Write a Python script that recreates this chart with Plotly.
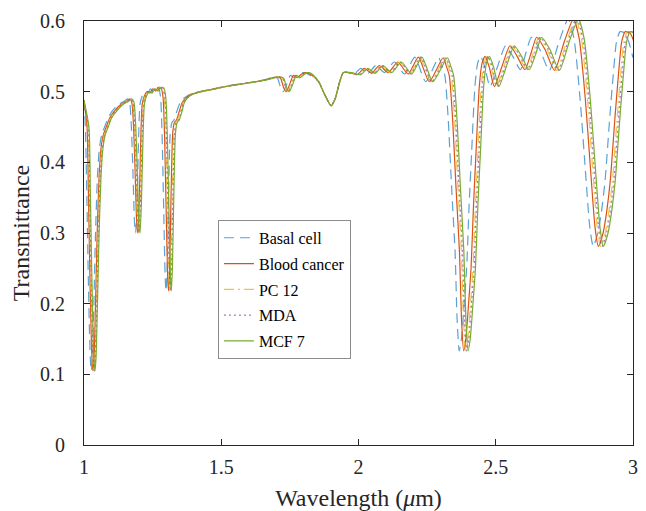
import plotly.graph_objects as go

# --- Data (wavelength in um, transmittance) ---
series_names = ["Basal cell", "Blood cancer", "PC 12", "MDA", "MCF 7"]

# transmittance levels shared by all five curves (same features, shifted in wavelength)
T = [
    0.488, 0.450, 0.360, 0.250, 0.160, 0.115, 0.105, 0.125, 0.200, 0.300, 0.380, 0.420, 0.440, 0.450, 0.463,
    0.471, 0.478, 0.483, 0.486, 0.490, 0.485, 0.455, 0.390, 0.315, 0.300, 0.340, 0.420, 0.482, 0.494, 0.500, 0.498, 0.504,
    0.501, 0.506, 0.505, 0.492, 0.430, 0.320, 0.235, 0.218, 0.250, 0.350, 0.440, 0.456, 0.460, 0.472,
    0.484, 0.491, 0.496,
    0.500, 0.504, 0.508, 0.511, 0.514, 0.517,
    0.521, 0.519, 0.506, 0.500, 0.510, 0.523, 0.520, 0.525, 0.527, 0.523,
    0.514, 0.495, 0.480, 0.490, 0.512, 0.527,
    0.527, 0.524, 0.533, 0.526, 0.537, 0.527, 0.542, 0.525, 0.549, 0.514,
    0.548, 0.535, 0.522, 0.460, 0.366, 0.272, 0.180, 0.133, 0.150, 0.200, 0.250, 0.340, 0.413, 0.507, 0.540, 0.550,
    0.535, 0.507, 0.535, 0.565, 0.550, 0.531,
    0.555, 0.577, 0.560, 0.530, 0.570, 0.603, 0.575, 0.491, 0.397, 0.307, 0.281, 0.300, 0.330, 0.373, 0.467, 0.524,
    0.571, 0.585, 0.583, 0.570, 0.548,
]

wl_basal = [
    1.000, 1.005, 1.010, 1.015, 1.020, 1.024, 1.027, 1.031, 1.036, 1.042, 1.049, 1.056, 1.065, 1.075, 1.088,
    1.100, 1.115, 1.130, 1.145, 1.158, 1.166, 1.172, 1.178, 1.184, 1.188, 1.193, 1.198, 1.204, 1.212, 1.222, 1.232, 1.242,
    1.252, 1.262, 1.272, 1.279, 1.285, 1.291, 1.296, 1.299, 1.303, 1.308, 1.314, 1.320, 1.328, 1.338,
    1.350, 1.365, 1.385,
    1.420, 1.470, 1.520, 1.570, 1.620, 1.660,
    1.690, 1.705, 1.716, 1.726, 1.738, 1.752, 1.766, 1.782, 1.798, 1.825,
    1.855, 1.878, 1.900, 1.915, 1.930, 1.945,
    1.962, 1.982, 2.008, 2.035, 2.063, 2.095, 2.130, 2.168, 2.205, 2.245,
    2.292, 2.305, 2.315, 2.327, 2.339, 2.352, 2.359, 2.367, 2.375, 2.385, 2.394, 2.403, 2.412, 2.424, 2.434, 2.445,
    2.460, 2.479, 2.506, 2.536, 2.562, 2.590,
    2.610, 2.630, 2.660, 2.695, 2.730, 2.764, 2.785, 2.807, 2.825, 2.843, 2.855, 2.872, 2.885, 2.898, 2.916, 2.928,
    2.940, 2.953, 2.970, 2.985, 3.000,
]

wl_blood = [
    1.000, 1.011, 1.016, 1.021, 1.026, 1.030, 1.033, 1.037, 1.042, 1.048, 1.055, 1.062, 1.071, 1.081, 1.094,
    1.108, 1.123, 1.138, 1.153, 1.166, 1.174, 1.180, 1.186, 1.192, 1.196, 1.201, 1.206, 1.212, 1.220, 1.230, 1.240, 1.250,
    1.261, 1.271, 1.281, 1.288, 1.294, 1.300, 1.305, 1.308, 1.312, 1.317, 1.323, 1.329, 1.337, 1.347,
    1.357, 1.371, 1.390,
    1.424, 1.474, 1.524, 1.574, 1.624, 1.664,
    1.701, 1.716, 1.727, 1.737, 1.749, 1.763, 1.777, 1.793, 1.809, 1.831,
    1.855, 1.878, 1.900, 1.915, 1.930, 1.945,
    1.968, 1.995, 2.021, 2.048, 2.076, 2.108, 2.143, 2.181, 2.218, 2.258,
    2.308, 2.321, 2.331, 2.343, 2.355, 2.368, 2.375, 2.383, 2.391, 2.401, 2.410, 2.419, 2.428, 2.440, 2.450, 2.461,
    2.476, 2.495, 2.522, 2.552, 2.578, 2.606,
    2.629, 2.649, 2.679, 2.714, 2.749, 2.783, 2.804, 2.826, 2.844, 2.862, 2.874, 2.891, 2.904, 2.917, 2.935, 2.947,
    2.959, 2.972, 2.989, 3.004, 3.019,
]

wl_pc12 = [
    1.000, 1.014, 1.019, 1.024, 1.029, 1.033, 1.036, 1.040, 1.045, 1.051, 1.058, 1.065, 1.074, 1.084, 1.097,
    1.111, 1.126, 1.141, 1.156, 1.169, 1.177, 1.183, 1.189, 1.195, 1.199, 1.204, 1.209, 1.215, 1.223, 1.233, 1.243, 1.253,
    1.265, 1.275, 1.285, 1.292, 1.298, 1.304, 1.309, 1.312, 1.316, 1.321, 1.327, 1.333, 1.341, 1.351,
    1.360, 1.373, 1.392,
    1.426, 1.476, 1.526, 1.576, 1.626, 1.666,
    1.706, 1.721, 1.732, 1.742, 1.754, 1.768, 1.782, 1.798, 1.814, 1.833,
    1.855, 1.878, 1.900, 1.915, 1.930, 1.945,
    1.971, 2.001, 2.027, 2.054, 2.082, 2.114, 2.149, 2.187, 2.224, 2.264,
    2.315, 2.328, 2.338, 2.350, 2.362, 2.375, 2.382, 2.390, 2.398, 2.408, 2.417, 2.426, 2.435, 2.447, 2.457, 2.468,
    2.483, 2.502, 2.529, 2.559, 2.585, 2.613,
    2.637, 2.657, 2.687, 2.722, 2.757, 2.791, 2.812, 2.834, 2.852, 2.870, 2.882, 2.899, 2.912, 2.925, 2.943, 2.955,
    2.967, 2.980, 2.997, 3.012, 3.027,
]

wl_mda = [
    1.000, 1.016, 1.021, 1.026, 1.031, 1.035, 1.038, 1.042, 1.047, 1.053, 1.060, 1.067, 1.076, 1.086, 1.099,
    1.113, 1.128, 1.143, 1.158, 1.171, 1.179, 1.185, 1.191, 1.197, 1.201, 1.206, 1.211, 1.217, 1.225, 1.235, 1.245, 1.255,
    1.268, 1.278, 1.288, 1.295, 1.301, 1.307, 1.312, 1.315, 1.319, 1.324, 1.330, 1.336, 1.344, 1.354,
    1.362, 1.375, 1.393,
    1.427, 1.477, 1.527, 1.577, 1.627, 1.667,
    1.709, 1.724, 1.735, 1.745, 1.757, 1.771, 1.785, 1.801, 1.817, 1.835,
    1.855, 1.878, 1.900, 1.915, 1.930, 1.945,
    1.973, 2.004, 2.030, 2.057, 2.085, 2.117, 2.152, 2.190, 2.227, 2.267,
    2.319, 2.332, 2.342, 2.354, 2.366, 2.379, 2.386, 2.394, 2.402, 2.412, 2.421, 2.430, 2.439, 2.451, 2.461, 2.472,
    2.487, 2.506, 2.533, 2.563, 2.589, 2.617,
    2.642, 2.662, 2.692, 2.727, 2.762, 2.796, 2.817, 2.839, 2.857, 2.875, 2.887, 2.904, 2.917, 2.930, 2.948, 2.960,
    2.972, 2.985, 3.002, 3.017, 3.032,
]

wl_mcf7 = [
    1.000, 1.018, 1.023, 1.028, 1.033, 1.037, 1.040, 1.044, 1.049, 1.055, 1.062, 1.069, 1.078, 1.088, 1.101,
    1.116, 1.131, 1.146, 1.161, 1.174, 1.182, 1.188, 1.194, 1.200, 1.204, 1.209, 1.214, 1.220, 1.228, 1.238, 1.248, 1.258,
    1.271, 1.281, 1.291, 1.298, 1.304, 1.310, 1.315, 1.318, 1.322, 1.327, 1.333, 1.339, 1.347, 1.357,
    1.365, 1.377, 1.395,
    1.428, 1.478, 1.528, 1.578, 1.628, 1.668,
    1.712, 1.727, 1.738, 1.748, 1.760, 1.774, 1.788, 1.804, 1.820, 1.837,
    1.855, 1.878, 1.900, 1.915, 1.930, 1.945,
    1.975, 2.008, 2.034, 2.061, 2.089, 2.121, 2.156, 2.194, 2.231, 2.271,
    2.324, 2.337, 2.347, 2.359, 2.371, 2.384, 2.391, 2.399, 2.407, 2.417, 2.426, 2.435, 2.444, 2.456, 2.466, 2.477,
    2.492, 2.511, 2.538, 2.568, 2.594, 2.622,
    2.647, 2.667, 2.697, 2.732, 2.767, 2.801, 2.822, 2.844, 2.862, 2.880, 2.892, 2.909, 2.922, 2.935, 2.953, 2.965,
    2.977, 2.990, 3.007, 3.022, 3.037,
]

wavelengths = [wl_basal, wl_blood, wl_pc12, wl_mda, wl_mcf7]

# --- Styles (MATLAB default colour order) ---
colors = ["rgba(0,114,189,0.65)", "#D95319", "rgba(237,177,32,0.8)", "rgba(126,47,142,0.65)", "#77AC30"]
dashes = ["10px,6px", "solid", "10px,4px,2px,4px", "2px,3px", "solid"]

FONT = "Liberation Serif, Times New Roman, serif"
AXC = "#262626"

fig = go.Figure()
for i, name in enumerate(series_names):
    fig.add_trace(go.Scatter(
        x=wavelengths[i], y=T, mode="lines", name=name, legendgroup=name,
        line=dict(color=colors[i], width=1.2, dash=dashes[i], shape="spline", smoothing=0.6),
    ))

axis_common = dict(
    showline=True, linecolor=AXC, linewidth=1, mirror="ticks",
    ticks="inside", ticklen=6, tickcolor=AXC, tickwidth=1,
    showgrid=False, zeroline=False, automargin=False,
    tickfont=dict(family=FONT, size=20, color=AXC),
)

# page body has an 8px margin, so the figure is offset by 8px (right/bottom overflow is cropped)
fig.update_layout(
    width=630, height=503,
    margin=dict(l=76, r=5, t=13, b=66),
    paper_bgcolor="white", plot_bgcolor="white",
    font=dict(family=FONT, color=AXC),
    xaxis=dict(range=[1, 3], dtick=0.5, tick0=1, ticklabelstandoff=4,
               title=dict(text="Wavelength (<i>μ</i>m)", font=dict(family=FONT, size=24, color=AXC), standoff=23),
               **axis_common),
    yaxis=dict(range=[0, 0.6], dtick=0.1, tick0=0, ticklabelstandoff=14,
               title=dict(text="Transmittance", font=dict(family=FONT, size=24, color=AXC), standoff=10),
               **axis_common),
    legend=dict(x=0.244, y=0.531, xanchor="left", yanchor="top",
                bgcolor="white", bordercolor="#8c8c8c", borderwidth=1,
                font=dict(family=FONT, size=16, color="black"),
                traceorder="grouped", tracegroupgap=2),
    showlegend=True,
)

fig.write_html("out.html")
